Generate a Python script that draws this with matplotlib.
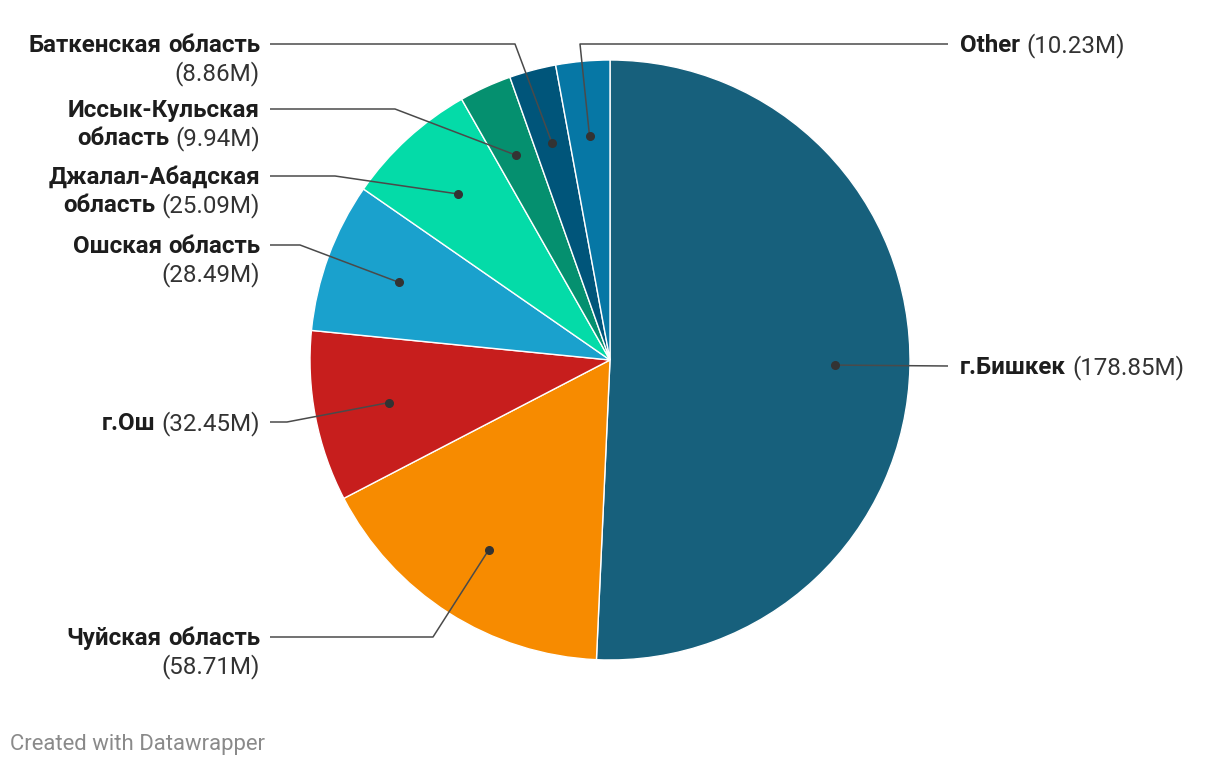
import matplotlib
matplotlib.use('Agg')
import numpy as np
import matplotlib.pyplot as plt

# Data, clockwise from 12 o'clock
regions = ['г.Бишкек', 'Чуйская область', 'г.Ош', 'Ошская область',
           'Джалал-Абадская область', 'Иссык-Кульская область',
           'Баткенская область', 'Other']
values = [178.85, 58.71, 32.45, 28.49, 25.09, 9.94, 8.86, 10.23]
colors = ['#17607c', '#f78b00', '#c71e1d', '#1aa1cd',
          '#04dba8', '#05906f', '#00557a', '#0677a5']

# label layout (pixels): side, y of first line, x of the elbow
label_side = ['right', 'left', 'left', 'left', 'left', 'left', 'left', 'right']
label_y = [366, 637, 422, 245, 176, 109, 44, 44]
elbow_x = [948, 433, 287, 300, 335, 395, 515, 580]

W, H = 1220, 766
CX, CY, R = 610, 360, 300
FS = 17.4
LINE_H = 28
MAX_W = 240

plt.rcParams['font.family'] = ['Roboto', 'DejaVu Sans']

fig = plt.figure(figsize=(W / 100, H / 100), dpi=100)
ax = fig.add_axes([0, 0, 1, 1])

wedges, _ = ax.pie(values, colors=colors, startangle=-90, counterclock=True,
                   center=(CX, CY), radius=R,
                   wedgeprops=dict(edgecolor='white', linewidth=1))
# pixel coordinates, y pointing down
ax.set_xlim(0, W)
ax.set_ylim(H, 0)
ax.set_aspect('auto')
ax.axis('off')

renderer = fig.canvas.get_renderer()


def text_width(s, weight):
    t = ax.text(0, 0, s, fontsize=FS, fontweight=weight)
    w = t.get_window_extent(renderer).width
    t.remove()
    return w


space_w = text_width('a a', 'normal') - text_width('aa', 'normal')


def draw_label(x, y, name, value, side):
    tokens = [(w, 'bold', '#1d1d1d') for w in name.split(' ')]
    tokens.append((f'({value:.2f}M)', 'normal', '#333333'))
    # simple greedy word wrap like datawrapper does
    lines = []
    cur = []
    cur_w = 0
    for tok in tokens:
        tw = text_width(tok[0], tok[1])
        new_w = tw if not cur else cur_w + space_w + tw
        if cur and new_w > MAX_W:
            lines.append((cur, cur_w))
            cur = [(tok, tw)]
            cur_w = tw
        else:
            cur.append((tok, tw))
            cur_w = new_w
    lines.append((cur, cur_w))

    for i, (runs, lw) in enumerate(lines):
        xx = x - lw if side == 'left' else x
        yy = y + i * LINE_H + 8
        for (s, weight, col), tw in runs:
            ax.text(xx, yy, s, fontsize=FS, fontweight=weight, color=col,
                    ha='left', va='baseline')
            xx += tw + space_w


for w, name, val, side, ly, ex in zip(wedges, regions, values, label_side, label_y, elbow_x):
    mid = np.deg2rad((w.theta1 + w.theta2) / 2)
    dx = CX + 0.75 * R * np.cos(mid)
    dy = CY + 0.75 * R * np.sin(mid)
    if side == 'left':
        end_x, tx = 270, 260
    else:
        end_x, tx = 948, 960
    ax.plot([dx, ex, end_x], [dy, ly, ly], color='#4a4a4a', lw=1.1,
            solid_capstyle='butt', zorder=3)
    ax.plot(dx, dy, 'o', color='#333333', markersize=5.5, zorder=4)
    draw_label(tx, ly, name, val, side)

ax.text(10, 750, 'Created with Datawrapper', fontsize=15.9, color='#8a8a8a',
        ha='left', va='baseline')

fig.savefig('out.png', dpi=100)
